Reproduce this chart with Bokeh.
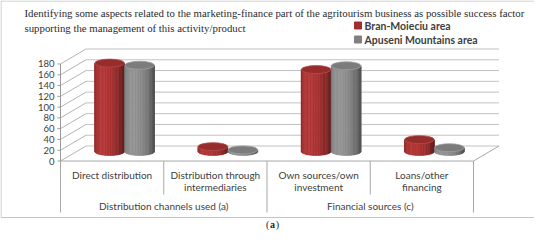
import numpy as np
from bokeh.plotting import figure
from bokeh.models import Range1d, ColumnDataSource
from bokeh.core.properties import value
from bokeh.embed import file_html
from bokeh.resources import INLINE

# ---------------- data ----------------
title_lines = [
    "Identifying some aspects related to the marketing-finance part of the agritourism business as possible success factor",
    "supporting the management of this activity/product",
]
categories = [
    ["Direct distribution"],
    ["Distribution through", "intermediaries"],
    ["Own sources/own", "investment"],
    ["Loans/other", "financing"],
]
groups = ["Distribution channels used (a)", "Financial sources (c)"]
group_span = [2, 2]
series_names = ["Bran-Moieciu area", "Apuseni Mountains area"]
bran = [164, 9, 152, 22]
apuseni = [160, 3, 159, 7]
y_ticks = [0, 20, 40, 60, 80, 100, 120, 140, 160, 180]
caption = "a"

# ---------------- geometry (page pixels -> data) ----------------
W, H = 534, 230
OX, OY = 8, 8
PX0, PXU = 68.0, 103.25     # page x of first category edge, px per category
PY0, PYU = 168.5, 0.5389    # page y of value 0 (front), px per value unit


def X(px):
    return (px - PX0) / PXU


def Y(py):
    return (PY0 - py) / PYU


ncat = len(categories)
DXU = 25.5 / PXU          # depth offset in x (data units)
DYU = 15.0 / PYU          # depth offset in y (data units)
BAR_DX = 12.5 / PXU       # bars sit mid-depth
BASE = 9.5 / PYU
RR = 14.8 / PXU           # cylinder radius
HALF = 15.0 / PXU         # offset of each series from cluster centre
EB = 4.0 / PYU            # ellipse semi-minor axis

p = figure(width=W, height=H, x_range=Range1d(X(OX), X(OX + W)),
           y_range=Range1d(Y(OY + H), Y(OY)), output_backend="svg",
           toolbar_location=None, min_border=0, x_axis_type=None,
           y_axis_type=None)
p.outline_line_color = None
p.background_fill_color = "white"
p.border_fill_color = "white"

# outer frame
p.quad(left=[X(8.5)], right=[X(542)], top=[Y(8.5)], bottom=[Y(225)],
       fill_color=None, line_color="#C4C4C4", line_width=1)

# back wall grid lines
p.segment(x0=[DXU] * len(y_ticks), y0=[v + DYU for v in y_ticks],
          x1=[ncat + DXU] * len(y_ticks), y1=[v + DYU for v in y_ticks],
          line_color="#C2C2C2", line_width=1)
# side wall diagonals
p.segment(x0=[0] * len(y_ticks), y0=y_ticks, x1=[DXU] * len(y_ticks),
          y1=[v + DYU for v in y_ticks], line_color="#B4B4B4", line_width=1)
# floor right edge
p.segment(x0=[ncat], y0=[0], x1=[ncat + DXU], y1=[DYU],
          line_color="#A8A8A8", line_width=1)
# front value axis + ticks
p.segment(x0=[0], y0=[0], x1=[0], y1=[max(y_ticks)], line_color="#9A9A9A")
p.segment(x0=[X(65)] * len(y_ticks), y0=y_ticks, x1=[0] * len(y_ticks),
          y1=y_ticks, line_color="#9A9A9A")
p.text(x=[X(62)] * len(y_ticks), y=y_ticks, text=[str(v) for v in y_ticks],
       text_align="right", text_baseline="middle", text_color="#404040",
       text_font=value("Lato"), text_font_size=value("9.5px"))

# category table
p.segment(x0=[0], y0=[0], x1=[ncat], y1=[0], line_color="#A8A8A8")
edges = [0]
for g in group_span:
    edges.append(edges[-1] + g)
inner = [i for i in range(1, ncat) if i not in edges]
p.segment(x0=edges, y0=[0] * len(edges), x1=edges, y1=[Y(220)] * len(edges),
          line_color="#A8A8A8")
p.segment(x0=inner, y0=[0] * len(inner), x1=inner, y1=[Y(202)] * len(inner),
          line_color="#A8A8A8")

# cylinders
def shade(rgb, t):
    f = 0.6 + 0.45 * max(0.0, np.cos(t - 1.15))
    r, g, b = [int(min(255, c * f)) for c in rgb]
    return "#%02x%02x%02x" % (r, g, b)


side_rgb = [(170, 50, 50), (140, 140, 140)]
top_col = ["#972c2c", "#7c7c7c"]
rim_col = ["#b34848", "#9a9a9a"]
thetas = np.linspace(0, np.pi, 29)
xs, ys, cols = [], [], []
ell = dict(x=[], y=[], fill=[], line=[])
for j, vals in enumerate([bran, apuseni]):
    for i, v in enumerate(vals):
        cx = i + 0.5 + BAR_DX + (-HALF if j == 0 else HALF)
        top = BASE + v
        for k in range(len(thetas) - 1):
            t0, t1 = thetas[k], thetas[k + 1]
            xa = cx - RR * np.cos(t0)
            xb = cx - RR * np.cos(t1)
            xs.append([xa, xb, xb, xa])
            ys.append([top - EB * np.sin(t0), top - EB * np.sin(t1),
                       BASE - EB * np.sin(t1), BASE - EB * np.sin(t0)])
            cols.append(shade(side_rgb[j], 0.5 * (t0 + t1)))
        ell["x"].append(cx)
        ell["y"].append(top)
        ell["fill"].append(top_col[j])
        ell["line"].append(rim_col[j])

p.patches(xs=xs, ys=ys, fill_color=cols, line_color=cols, line_width=0.6)
p.ellipse(x="x", y="y", width=2 * RR, height=2 * EB, fill_color="fill",
          line_color="line", line_width=0.8, source=ColumnDataSource(ell))

# category labels
lx, ly, lt = [], [], []
for i, lines in enumerate(categories):
    for k, t in enumerate(lines):
        lx.append(i + 0.5)
        ly.append(Y(182 + 12 * k))
        lt.append(t)
p.text(x=lx, y=ly, text=lt, text_align="center", text_baseline="middle",
       text_color="#404040", text_font=value("Lato"),
       text_font_size=value("10px"))
gx = [(edges[k] + edges[k + 1]) / 2 for k in range(len(groups))]
p.text(x=gx, y=[Y(213)] * len(groups), text=groups, text_align="center",
       text_baseline="middle", text_color="#404040", text_font=value("Lato"),
       text_font_size=value("10px"))

# title
p.text(x=[X(32)] * 2, y=[Y(20), Y(35.5)], text=title_lines,
       text_align="left", text_baseline="middle", text_color="#2b2b2b",
       text_font=value("Liberation Serif"), text_font_size=value("10.8px"))

# legend
leg_cols = ["#a02e2e", "#808080"]
p.scatter(x=[X(365.5)] * 2, y=[Y(33), Y(47)], marker="square", size=7,
          fill_color=leg_cols, line_color=leg_cols)
p.text(x=[X(372)] * 2, y=[Y(33), Y(47)], text=series_names,
       text_align="left", text_baseline="middle", text_color="#404040",
       text_font=value("Lato"), text_font_size=value("10.5px"),
       text_font_style="bold")

# caption "(a)"
CY = Y(231.5)
p.text(x=[X(276.8)], y=[CY], text=["("], text_align="right",
       text_baseline="middle", text_color="#222222",
       text_font=value("Liberation Serif"), text_font_size=value("10px"))
p.text(x=[X(280)], y=[CY], text=[caption], text_align="center",
       text_baseline="middle", text_color="#222222",
       text_font=value("Liberation Serif"), text_font_size=value("10px"),
       text_font_style="bold")
p.text(x=[X(283.2)], y=[CY], text=[")"], text_align="left",
       text_baseline="middle", text_color="#222222",
       text_font=value("Liberation Serif"), text_font_size=value("10px"))

open("out.html", "w").write(file_html(p, INLINE))
